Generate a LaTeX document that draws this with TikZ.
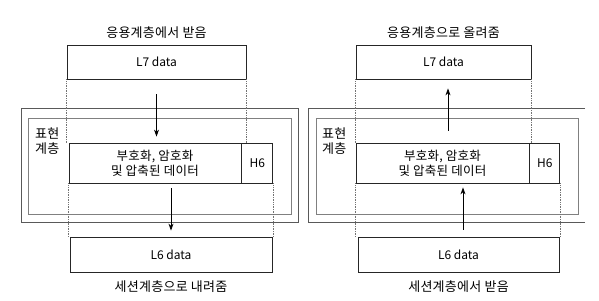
\documentclass[tikz,border=0pt]{standalone}
\usepackage{fontspec}
\setmainfont{Noto Sans CJK KR}
\usetikzlibrary{positioning, arrows.meta}

\begin{document}
\begin{tikzpicture}[
  x=1pt, y=-1pt,
  box/.style={draw=black!85, line width=0.8pt, inner sep=0pt, minimum height=34pt,
              text centered, font=\fontsize{12}{15}\selectfont},
  frame/.style={draw=black!65, line width=0.7pt},
  inframe/.style={draw=black!50, line width=0.7pt},
  guide/.style={draw=black!55, densely dotted, line width=0.7pt},
  label/.style={font=\fontsize{13}{15}\selectfont\addfontfeatures{LetterSpace=2}, inner sep=0pt},
  ktext/.style={font=\fontsize{12.5}{15}\selectfont\addfontfeatures{LetterSpace=2}},
  arrow/.style={-{Stealth[length=7pt, width=5pt]}, line width=0.8pt}
]
  \useasboundingbox (0,0) rectangle (599,300);

  % left: sending side
  \draw[frame] (21,108) rectangle (298,222);
  \draw[inframe] (28,118) rectangle (291,214);
  \node[label, align=left, anchor=north west] (presL) at (35,128) {표현\\계층};

  \node[box, minimum width=179pt] (l7L) at (156.5,62) {L7 data};
  \node[box, ktext, minimum width=172pt, minimum height=40pt, align=center] (dataL) at (155,163)
    {부호화, 암호화\\및 압축된 데이터};
  \node[box, minimum width=31pt, minimum height=40pt, right=0pt of dataL] (h6L) {H6};
  \node[box, minimum width=202pt, minimum height=35pt] (l6L) at (171,254.5) {L6 data};

  \node[label, above=6pt of l7L] (topL) {응용계층에서 받음};
  \node[label, below=8pt of l6L] (botL) {세션계층으로 내려줌};

  \draw[guide] (l7L.south west) -- (l7L.south west |- dataL.north);
  \draw[guide] (l7L.south east) -- (l7L.south east |- dataL.north);
  \draw[guide] (dataL.south west) -- (dataL.south west |- l6L.north);
  \draw[guide] (h6L.south east) -- (h6L.south east |- l6L.north);

  \draw[arrow, shorten <=15pt, shorten >=6pt] (l7L.south) -- (l7L.south |- dataL.north);
  \draw[arrow, shorten <=5pt, shorten >=6pt] (l6L.north |- dataL.south) -- (l6L.north);

  % right: receiving side
  \draw[frame] (585,108) -- (308,108) -- (308,222) -- (585,222);
  \draw[inframe] (316,118) rectangle (578,214);
  \node[label, align=left, anchor=north west] (presR) at (322,128) {표현\\계층};

  \node[box, minimum width=175pt] (l7R) at (443.5,62) {L7 data};
  \node[box, ktext, minimum width=173pt, minimum height=40pt, align=center] (dataR) at (442.5,163)
    {부호화, 암호화\\및 압축된 데이터};
  \node[box, minimum width=30pt, minimum height=40pt, right=0pt of dataR] (h6R) {H6};
  \node[box, minimum width=201pt, minimum height=35pt] (l6R) at (458.5,254.5) {L6 data};

  \node[label, above=6pt of l7R] (topR) {응용계층으로 올려줌};
  \node[label, below=8pt of l6R] (botR) {세션계층에서 받음};

  \draw[guide] (l7R.south west) -- (l7R.south west |- dataR.north);
  \draw[guide] (l7R.south east) -- (l7R.south east |- dataR.north);
  \draw[guide] (dataR.south west) -- (dataR.south west |- l6R.north);
  \draw[guide] (h6R.south east) -- (h6R.south east |- l6R.north);

  \draw[arrow, shorten <=12pt, shorten >=9pt]
    ([xshift=4.5pt]l7R.south |- dataR.north) -- ([xshift=4.5pt]l7R.south);
  \draw[arrow, shorten <=7pt, shorten >=4pt]
    ([xshift=4.5pt]l6R.north) -- ([xshift=4.5pt]l6R.north |- dataR.south);
\end{tikzpicture}
\end{document}
